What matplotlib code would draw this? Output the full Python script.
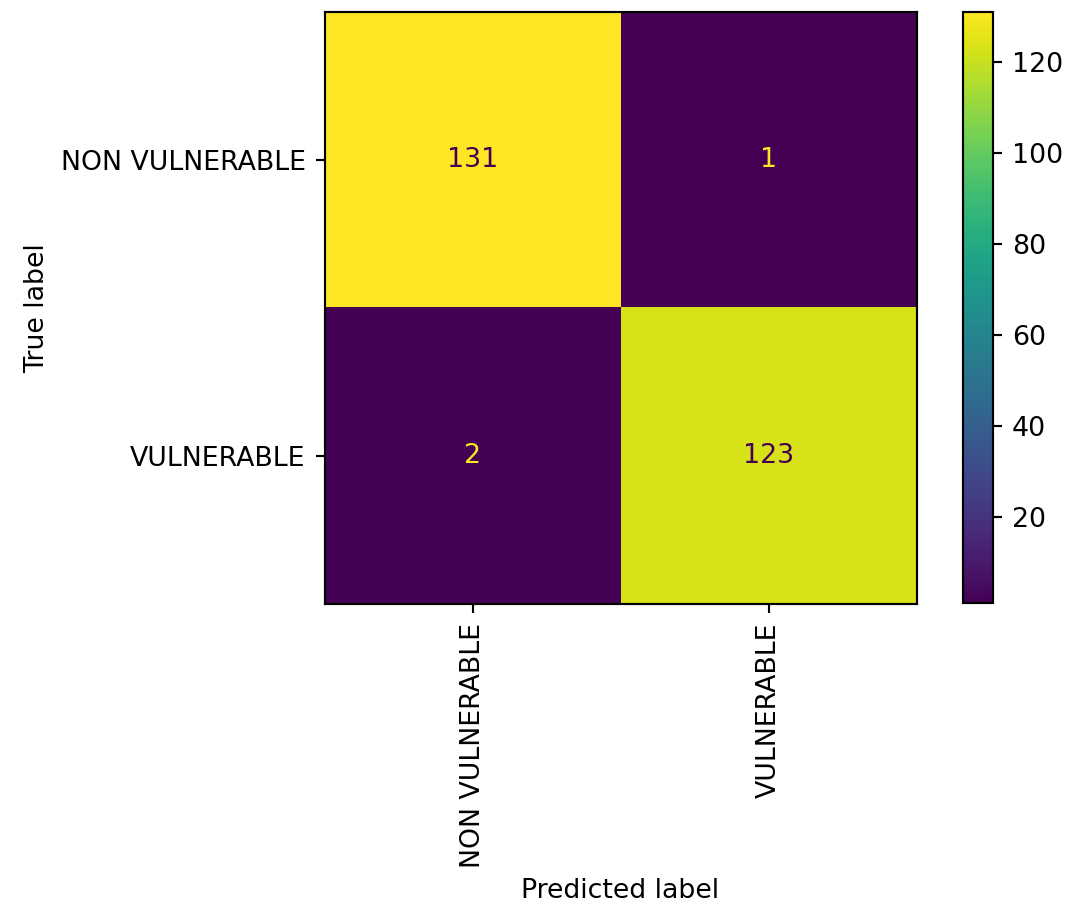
import numpy as np
import matplotlib
matplotlib.use("Agg")
import matplotlib.pyplot as plt

class_labels = ["NON VULNERABLE", "VULNERABLE"]
row_non_vulnerable = [131, 1]
row_vulnerable = [2, 123]

cm = np.array([row_non_vulnerable, row_vulnerable])

DPI = 193
W, H = 1067, 914
fig = plt.figure(figsize=(W / DPI, H / DPI), dpi=DPI)

ax = fig.add_axes([324 / W, 1 - 604 / H, (917 - 324) / W, (604 - 12) / H])
cax = fig.add_axes([963 / W, 1 - 603 / H, 30 / W, (603 - 12) / H])

cmap = plt.get_cmap("viridis")
im = ax.imshow(cm, interpolation="nearest", cmap=cmap)

cmap_min, cmap_max = cmap(0.0), cmap(1.0)
thresh = (cm.max() + cm.min()) / 2.0
for i in range(cm.shape[0]):
    for j in range(cm.shape[1]):
        color = cmap_max if cm[i, j] < thresh else cmap_min
        ax.text(j, i, format(cm[i, j], "d"), ha="center", va="center", color=color)

fig.colorbar(im, cax=cax)

ax.set_xticks(np.arange(len(class_labels)))
ax.set_yticks(np.arange(len(class_labels)))
ax.set_xticklabels(class_labels, rotation=90)
ax.set_yticklabels(class_labels)
ax.set_xlabel("Predicted label")
ax.set_ylabel("True label")
ax.set_ylim(len(class_labels) - 0.5, -0.5)

fig.savefig("out.png", dpi=DPI)
